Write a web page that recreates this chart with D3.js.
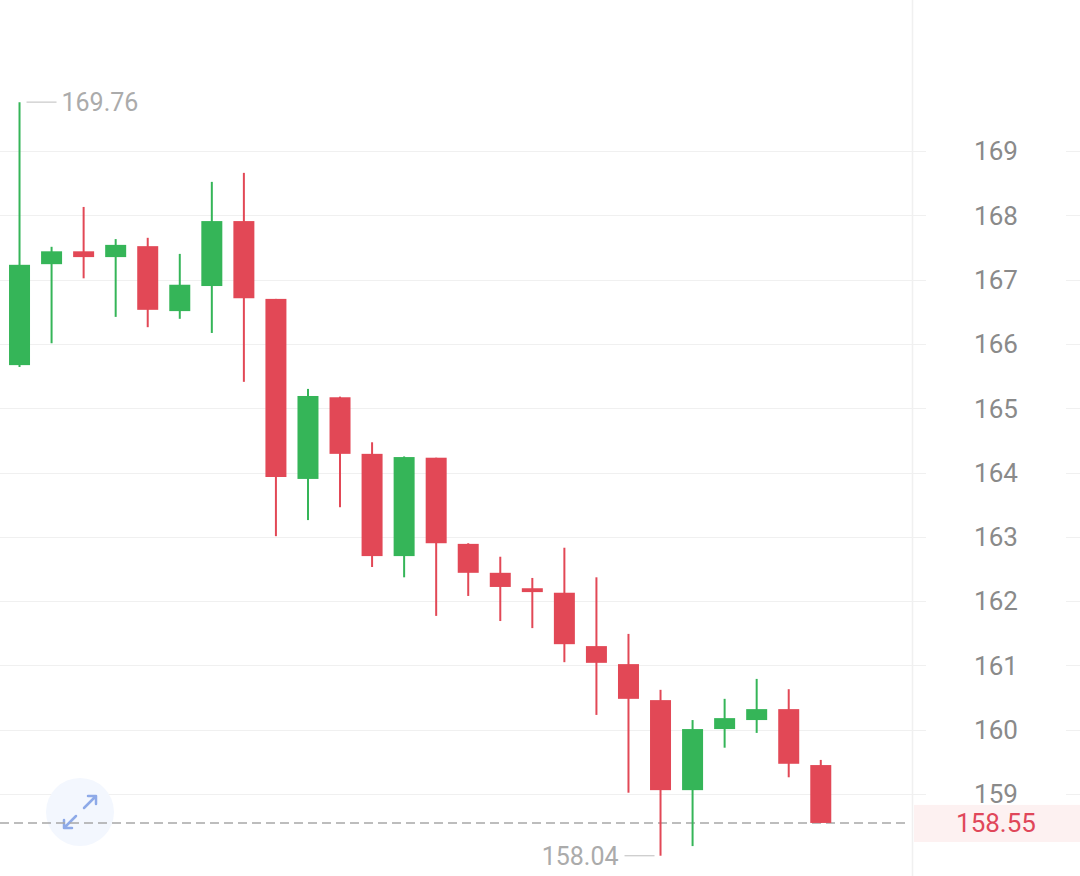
<!DOCTYPE html>
<html><head><meta charset="utf-8">
<script src="https://cdn.jsdelivr.net/npm/d3@7"></script>
<style>html,body{margin:0;padding:0;background:#fff;}svg{display:block;}</style>
</head><body>
<svg id="chart" width="1080" height="876"></svg>
<script>
const categories = ["1","2","3","4","5","6","7","8","9","10","11","12","13","14","15","16","17","18","19","20","21","22","23","24","25","26"];
const openValues  = [165.67,167.24,167.44,167.35,167.52,166.51,166.90,167.91,166.70,163.90,165.17,164.29,162.70,164.23,162.89,162.44,162.20,162.13,161.30,161.02,160.46,159.06,160.01,160.15,160.32,159.45];
const closeValues = [167.23,167.44,167.35,167.54,166.53,166.92,167.91,166.71,163.93,165.19,164.29,162.70,164.24,162.90,162.44,162.22,162.14,161.33,161.04,160.48,159.06,160.01,160.18,160.32,159.47,158.55];
const highValues  = [169.76,167.51,168.13,167.63,167.65,167.40,168.52,168.66,166.70,165.30,165.18,164.47,164.25,164.23,162.90,162.69,162.36,162.83,162.37,161.49,160.62,160.15,160.48,160.79,160.63,159.53];
const lowValues   = [165.64,166.01,167.02,166.42,166.26,166.39,166.17,165.41,163.01,163.26,163.46,162.53,162.37,161.77,162.08,161.69,161.58,161.05,160.23,159.02,158.04,158.19,159.72,159.95,159.26,158.55];
const yTicks = [159,160,161,162,163,164,165,166,167,168,169];
const lastPrice = 158.55;
const maxLabel = "169.76";
const minLabel = "158.04";

const data = categories.map((c,i)=>({c, o:openValues[i], cl:closeValues[i], h:highValues[i], l:lowValues[i]}));
const W = 1080, H = 876;
const UP = "#35b558", DOWN = "#e24856";
const svg = d3.select("#chart");
const FONT = "Roboto, 'Noto Sans', sans-serif";

const y = d3.scaleLinear().domain([159,169]).range([794,151]);
const x = d3.scaleBand().domain(categories).range([3.5, 3.5 + 32.05*26]).paddingInner(0.345).paddingOuter(0.1725);

// grid
svg.append("g").selectAll("line").data(yTicks).join("line")
  .attr("x1",0).attr("x2",W).attr("y1",d=>Math.round(y(d))+0.5).attr("y2",d=>Math.round(y(d))+0.5)
  .attr("stroke","#f0f0f0").attr("stroke-width",1);

// separator
svg.append("line").attr("x1",912.5).attr("x2",912.5).attr("y1",0).attr("y2",H)
  .attr("stroke","#f0f0f0").attr("stroke-width",1.5);

// expand icon
const ic = svg.append("g").attr("transform","translate(80,812)");
ic.append("circle").attr("r",34).attr("fill","#f3f7fe");
ic.append("path").attr("d","M4,-4 L16,-16 M8,-16 L16,-16 L16,-8").attr("fill","none").attr("stroke","#8eaae8").attr("stroke-width",2.5).attr("stroke-linecap","round").attr("stroke-linejoin","round");
ic.append("path").attr("d","M-4,4 L-16,16 M-16,8 L-16,16 L-8,16").attr("fill","none").attr("stroke","#8eaae8").attr("stroke-width",2.5).attr("stroke-linecap","round").attr("stroke-linejoin","round");

// y axis labels with white backing
const axis = svg.append("g");
axis.selectAll("rect").data(yTicks).join("rect")
  .attr("x",926).attr("y",d=>y(d)-14).attr("width",140).attr("height",28).attr("fill","#fff");
axis.selectAll("text").data(yTicks).join("text")
  .attr("x",996).attr("y",d=>y(d)).attr("dy","0.36em").attr("text-anchor","middle")
  .attr("font-family",FONT).attr("font-size",26).attr("fill","#8a8a8a").text(d=>d);

// last price dashed line
svg.append("line").attr("x1",0).attr("x2",910).attr("y1",y(lastPrice)).attr("y2",y(lastPrice))
  .attr("stroke","#a8a8a8").attr("stroke-width",1.5).attr("stroke-dasharray","9,5");
svg.append("rect").attr("x",914).attr("y",y(lastPrice)-18).attr("width",W-914).attr("height",37).attr("fill","#fdf1f1");
svg.append("text").attr("x",996).attr("y",y(lastPrice)).attr("dy","0.36em").attr("text-anchor","middle")
  .attr("font-family",FONT).attr("font-size",26).attr("fill","#e0475a").text(lastPrice.toFixed(2));

// candles
const g = svg.append("g");
const bw = x.bandwidth();
g.selectAll("line.w").data(data).join("line").attr("class","w")
  .attr("x1",d=>x(d.c)+bw/2).attr("x2",d=>x(d.c)+bw/2)
  .attr("y1",d=>y(d.h)).attr("y2",d=>y(d.l))
  .attr("stroke",d=>d.cl>=d.o?UP:DOWN).attr("stroke-width",2);
g.selectAll("rect.b").data(data).join("rect").attr("class","b")
  .attr("x",d=>x(d.c)).attr("width",bw)
  .attr("y",d=>y(Math.max(d.o,d.cl)))
  .attr("height",d=>Math.max(3,Math.abs(y(d.o)-y(d.cl))))
  .attr("fill",d=>d.cl>=d.o?UP:DOWN);

// max/min annotations
const iMax = d3.maxIndex(highValues), iMin = d3.minIndex(lowValues);
const xmx = x(categories[iMax])+bw/2, ymx = y(highValues[iMax]);
svg.append("line").attr("x1",xmx+7).attr("x2",xmx+37).attr("y1",ymx).attr("y2",ymx).attr("stroke","#c8c8c8").attr("stroke-width",1.2);
svg.append("text").attr("x",xmx+42).attr("y",ymx).attr("dy","0.36em").attr("font-family",FONT).attr("font-size",25).attr("fill","#ababab").text(maxLabel);
const xmn = x(categories[iMin])+bw/2, ymn = y(lowValues[iMin]);
svg.append("line").attr("x1",xmn-36).attr("x2",xmn-6).attr("y1",ymn).attr("y2",ymn).attr("stroke","#c8c8c8").attr("stroke-width",1.2);
svg.append("text").attr("x",xmn-42).attr("y",ymn).attr("dy","0.36em").attr("text-anchor","end").attr("font-family",FONT).attr("font-size",25).attr("fill","#ababab").text(minLabel);
</script>
</body></html>
